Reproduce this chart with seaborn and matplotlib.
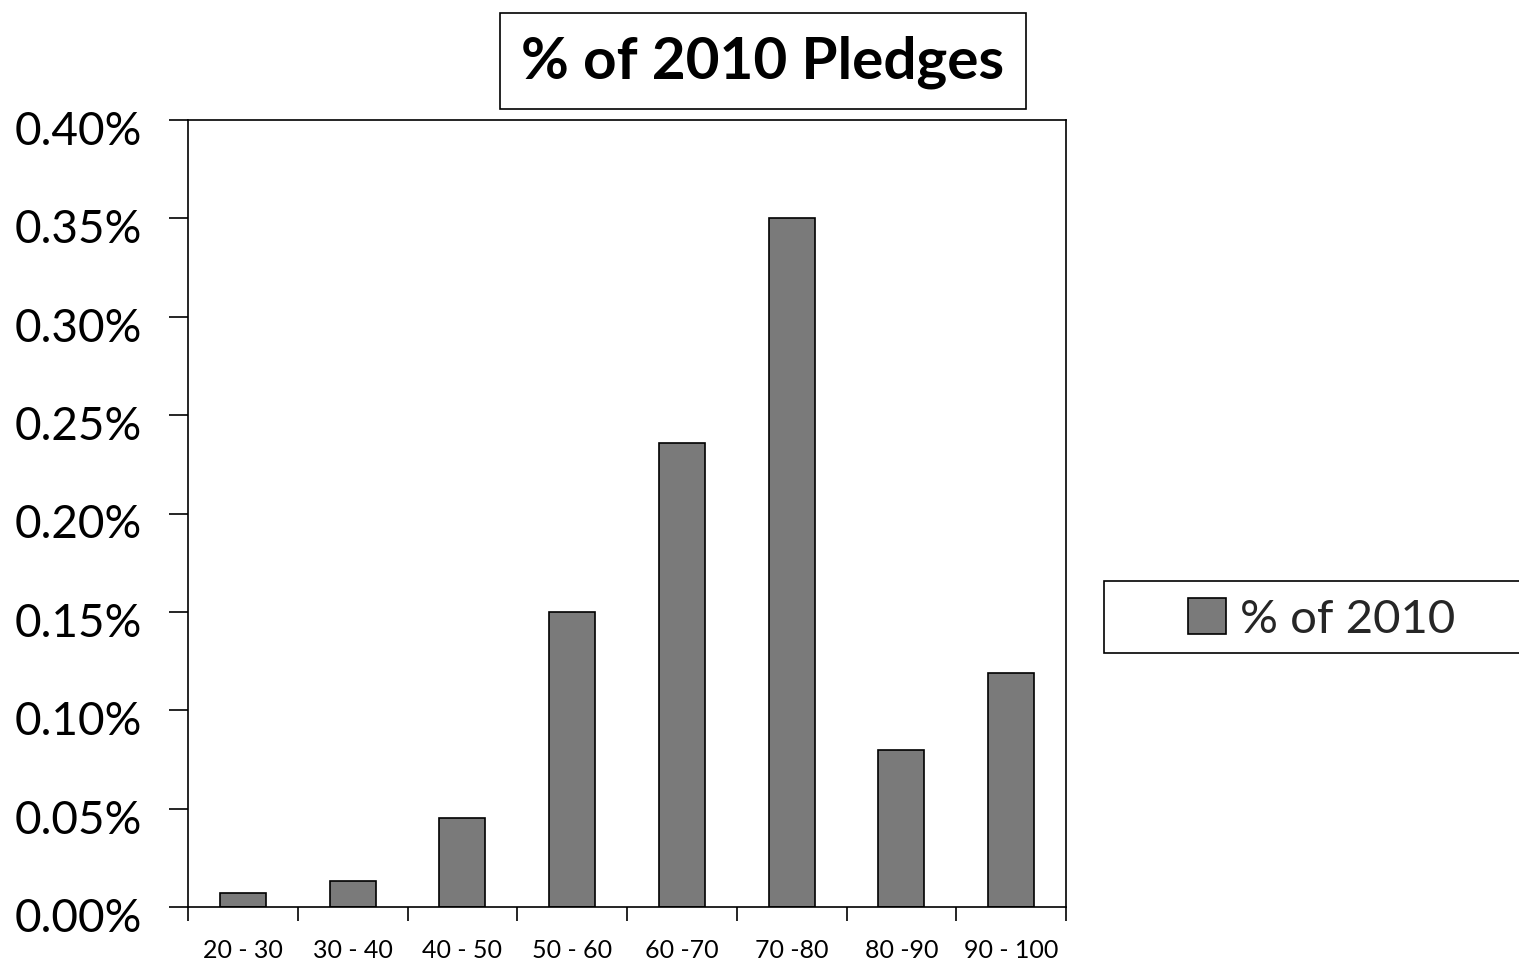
import matplotlib
matplotlib.use("Agg")
import matplotlib.pyplot as plt
import matplotlib.transforms as mtransforms
import seaborn as sns
import pandas as pd
import numpy as np
from matplotlib.ticker import PercentFormatter, FixedLocator

categories = ["20 - 30", "30 - 40", "40 - 50", "50 - 60", "60 -70", "70 -80", "80 -90", "90 - 100"]
values = [0.00007, 0.00013, 0.00045, 0.00150, 0.00236, 0.00350, 0.00080, 0.00119]
series_name = "% of 2010"
title = "% of 2010 Pledges"

sns.set_theme(style="white")
plt.rcParams['font.family'] = ['Lato', 'DejaVu Sans']

df = pd.DataFrame({"range": categories, "value": values, "series": series_name})

fig = plt.figure(figsize=(15.19, 9.62), dpi=100)
ax = fig.add_axes([188/1519, 54/962, (1066-188)/1519, (908-121)/962])

sns.barplot(data=df, x="range", y="value", hue="series", palette=["#7a7a7a"],
            width=0.42, edgecolor="black", linewidth=1.2, ax=ax, legend=False, saturation=1)

ax.set_xlim(-0.5, len(categories) - 0.5)
ax.set_ylim(0, 0.004)
ax.yaxis.set_major_locator(FixedLocator(np.arange(0, 0.00401, 0.0005)))
ax.yaxis.set_major_formatter(PercentFormatter(xmax=1, decimals=2))
ax.set_xlabel("")
ax.set_ylabel("")

for s in ax.spines.values():
    s.set_color("black")
    s.set_linewidth(1.2)
    s.set_visible(True)

ax.tick_params(axis="y", which="major", left=True, length=14, width=1.2, color="black",
               labelsize=33, pad=19, labelcolor="black")
ax.tick_params(axis="x", which="major", bottom=False, length=0, labelsize=18, pad=22, labelcolor="black")
ax.xaxis.set_minor_locator(FixedLocator(np.arange(-0.5, len(categories), 1.0)))
ax.tick_params(axis="x", which="minor", bottom=True, length=10, width=1.2, color="black")

offset = mtransforms.ScaledTranslation(0, -7/100, fig.dpi_scale_trans)
for lbl in ax.get_yticklabels():
    lbl.set_transform(lbl.get_transform() + offset)

fig.text(763/1519, 1 - 62/962, title, ha="center", va="center", fontsize=42, fontweight="bold",
         color="black",
         bbox=dict(boxstyle="square,pad=0.36", facecolor="white", edgecolor="black", linewidth=1.2))

# legend frame (extends past the right edge like the reference)
frame = matplotlib.patches.Rectangle((1104/1519, 1 - 654/962), 0.4, 72/962,
                                     transform=fig.transFigure, facecolor="white",
                                     edgecolor="black", linewidth=1.2, clip_on=False)
fig.patches.append(frame)

handle = matplotlib.patches.Patch(facecolor="#7a7a7a", edgecolor="black", linewidth=1.2)
leg = fig.legend([handle], [series_name], loc="center left",
                 bbox_to_anchor=(1188/1519, 1 - 620/962), fontsize=34, frameon=False,
                 borderpad=0, handlelength=0.8, handleheight=0.8, handletextpad=0.3,
                 borderaxespad=0)

fig.savefig("out.png", dpi=100, facecolor="white")
